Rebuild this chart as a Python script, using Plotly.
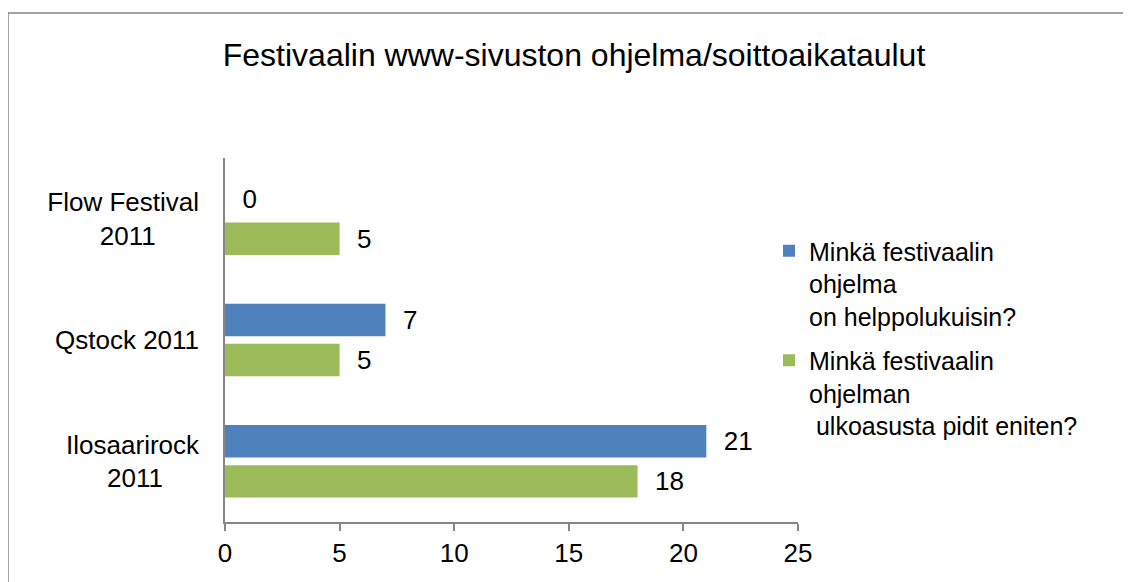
import plotly.graph_objects as go

categories = ["Flow Festival 2011", "Qstock 2011", "Ilosaarirock 2011"]
tick_labels = ["Flow Festival<br>2011" + "\u00a0" * 6, "Qstock 2011", "Ilosaarirock<br>2011" + "\u00a0" * 5]
series_names = [
    "Minkä festivaalin<br>ohjelma<br>on helppolukuisin?",
    "Minkä festivaalin<br>ohjelman<br>\u00a0ulkoasusta pidit eniten?",
]
helppolukuisin = [0, 7, 21]
ulkoasu = [5, 5, 18]
colors = ["#4F81BD", "#9BBB59"]
x_ticks = [0, 5, 10, 15, 20, 25]

FONT = "Arial, Liberation Sans, sans-serif"

fig = go.Figure()
for i, (name, vals) in enumerate(zip(series_names, [helppolukuisin, ulkoasu])):
    fig.add_trace(go.Bar(
        y=categories, x=vals, orientation="h", name=name,
        marker=dict(color=colors[i], line=dict(width=0)),
        texttemplate="\u00a0\u00a0%{x}", textposition="outside",
        constraintext="none", cliponaxis=False,
        textfont=dict(family=FONT, size=26, color="black"),
        legendgroup=f"g{i}",
    ))

# page body has an 8px margin, so figure origin sits at (8, 8) in the screenshot
OFF = 8
W, H = 1131 - OFF, 582 - OFF
L, R, T, B = 225 - OFF, 1131 - 798, 158 - OFF, 582 - 522
pw, ph = W - L - R, H - T - B

def px_to_paper_x(px):
    return (px - OFF - L) / pw

def px_to_paper_y(py):
    return (H - B - (py - OFF)) / ph

fig.update_layout(
    width=W, height=H,
    margin=dict(l=L, r=R, t=T, b=B, autoexpand=False),
    paper_bgcolor="white", plot_bgcolor="white",
    font=dict(family=FONT, size=26, color="black"),
    title=dict(text="Festivaalin www-sivuston ohjelma/soittoaikataulut",
               x=(574 - OFF) / W, xref="container", xanchor="center",
               y=1 - (55 - OFF) / H, yref="container", yanchor="middle",
               font=dict(family=FONT, size=32, color="black")),
    barmode="group", bargap=0.34, bargroupgap=0.19,
    showlegend=True,
    legend=dict(x=px_to_paper_x(769), y=px_to_paper_y(228), xanchor="left", yanchor="top",
                font=dict(family=FONT, size=25, color="black"),
                valign="top", traceorder="grouped", tracegroupgap=9,
                bgcolor="rgba(0,0,0,0)"),
    xaxis=dict(range=[0, 25], tickvals=x_ticks, showgrid=False, zeroline=False,
               showline=True, linecolor="#868686", linewidth=1.5,
               ticks="outside", ticklen=7, tickcolor="#868686", tickwidth=1.5,
               tickfont=dict(family=FONT, size=26, color="black")),
    yaxis=dict(autorange="reversed", tickvals=categories, ticktext=tick_labels,
               showgrid=False, zeroline=False,
               showline=True, linecolor="#868686", linewidth=1.5,
               ticks="", ticklabelstandoff=19,
               tickfont=dict(family=FONT, size=26, color="black")),
    shapes=[dict(type="rect", xref="paper", yref="paper",
                 x0=px_to_paper_x(8), x1=px_to_paper_x(1131 + 50),
                 y0=px_to_paper_y(582 + 50), y1=px_to_paper_y(13),
                 line=dict(color="#868686", width=1.5), fillcolor="rgba(0,0,0,0)",
                 layer="below")],
)

fig.write_html("out.html")
